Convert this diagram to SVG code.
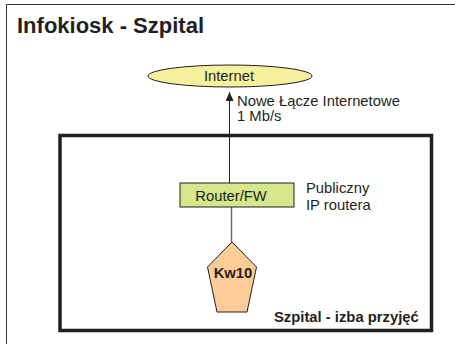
<svg xmlns="http://www.w3.org/2000/svg" width="455" height="344" viewBox="0 0 455 344">
<style>
text{font-family:"Liberation Sans",Arial,sans-serif;fill:#231f20;font-size:14.8px}
.b{font-weight:bold}
.node{stroke:#231f20;stroke-width:1}
</style>
<defs>
<marker id="ah" markerWidth="9" markerHeight="8" refX="9" refY="4" orient="auto" markerUnits="userSpaceOnUse">
<path d="M0,0 L9,4 L0,8 Z" fill="#231f20"/>
</marker>
</defs>
<rect width="455" height="344" fill="#fff"/>
<path d="M455 4.5 H6.5 V344" fill="none" stroke="#333" stroke-width="1"/>
<text class="b" x="17" y="33" style="font-size:22px">Infokiosk - Szpital</text>
<g id="szpital">
<rect x="60" y="135.5" width="371.5" height="195" fill="none" stroke="#231f20" stroke-width="3.5"/>
<text class="b" x="274" y="322">Szpital - izba przyjęć</text>
</g>
<g id="connectors">
<line x1="229.5" y1="183" x2="229.5" y2="92" stroke="#231f20" stroke-width="1" marker-end="url(#ah)"/>
<line x1="231.5" y1="207" x2="231.5" y2="242" stroke="#6d6d6d" stroke-width="1.5"/>
<text x="237" y="106">Nowe Łącze Internetowe</text>
<text x="237" y="121">1 Mb/s</text>
</g>
<g id="internet">
<ellipse class="node" cx="230" cy="76" rx="82" ry="11" fill="#f6ef9c"/>
<text x="229" y="80.5" text-anchor="middle">Internet</text>
</g>
<g id="router">
<rect class="node" x="180" y="183" width="114" height="24" fill="#d5e68b"/>
<text x="231" y="200.5" text-anchor="middle">Router/FW</text>
<text x="306" y="193">Publiczny</text>
<text x="306" y="210">IP routera</text>
</g>
<g id="kw10">
<polygon class="node" points="232,242 256.5,267 247,312 217,312 207.5,267" fill="#fdcc99"/>
<text class="b" x="233" y="278" text-anchor="middle">Kw10</text>
</g>
</svg>
